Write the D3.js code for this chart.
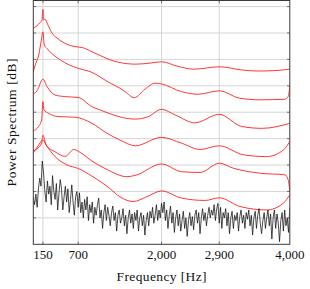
<!DOCTYPE html>
<html>
<head>
<meta charset="utf-8">
<script src="https://cdn.jsdelivr.net/npm/d3@7"></script>
<style>
  html, body { margin: 0; padding: 0; background: #fff; }
  svg { display: block; }
  text { font-family: "Liberation Serif", "Times New Roman", serif; fill: #111; }
  .grid line { stroke: #d6d6d6; stroke-width: 1; }
  .tick-mark { stroke: #555; stroke-width: 0.8; }
  .frame { fill: none; stroke: #3a3a3a; stroke-width: 1; }
  .envelope { fill: none; stroke: #ff2020; stroke-width: 0.9; }
  .spectrum { fill: none; stroke: #111; stroke-width: 0.75; }
</style>
</head>
<body>
<svg id="chart" width="310" height="289"></svg>
<script>
// LPC envelopes (red, offset) over a measured power spectrum (black)

const freqTicks = [150, 700, 2000, 2900, 4000];
const levelTicks = [0, 10, 20, 30, 40, 50, 60, 70, 80, 90];

// [frequency Hz, level dB], top to bottom
const envelope1 = [[0,81.8],[100,83.8],[135,84.9],[150,88.9],[160,85],[180,85.2],[230,83],[290,80],[370,78.1],[450,76.7],[600,75.1],[700,74.7],[760,74.5],[915,72.9],[1040,71.5],[1200,69.8],[1350,68.8],[1600,68.2],[1820,68.6],[2000,69.1],[2250,67.4],[2500,66.3],[2900,67.2],[3250,66.0],[3500,65.6],[3800,65.8],[4000,66.3]];
const envelope2 = [[0,65.2],[30,67.9],[85,71.7],[125,77.3],[150,80.4],[170,75.5],[210,74.2],[290,72.2],[420,69.8],[700,66.6],[885,65.4],[1200,61.0],[1350,59.1],[1430,57.8],[1575,55.5],[1740,58.7],[1900,61.0],[2000,60.7],[2310,57.8],[2570,56.8],[2900,58.1],[3220,55.3],[3540,54.7],[3920,54.9],[3975,55.9],[4000,59.9]];
const envelope3 = [[0,56.8],[60,58.2],[150,62.5],[215,59.7],[340,56.5],[500,55.9],[700,55.6],[915,52.1],[1040,50.9],[1200,49.4],[1450,47.7],[1590,47.4],[1790,48.3],[2000,51.1],[2210,49.0],[2520,46.0],[2900,49.2],[3250,44.6],[3570,43.9],[4000,45.8]];
const envelope4 = [[0,42.9],[75,44.4],[130,47.1],[150,54.0],[167,50.9],[240,49.6],[365,48.4],[450,48.3],[655,48.1],[915,45.8],[1145,42.1],[1350,39.5],[1590,37.3],[2000,40.5],[2310,38.3],[2600,35.9],[2900,37.3],[3275,33.9],[3640,33.2],[3900,35.7],[4000,38.9]];
const envelope5 = [[0,35.4],[75,36.5],[130,38.4],[150,41.3],[200,37.6],[340,35.0],[500,33.3],[630,35.9],[730,34.8],[915,31.5],[1135,28.5],[1460,25.6],[1590,26.1],[2000,30.4],[2310,27.5],[2600,27.2],[2900,30.7],[3120,28.8],[3540,26.9],[3925,26.3],[3975,24.4],[4000,20.0]];
const envelope6 = [[0,34.6],[75,37.3],[150,39.5],[200,37.6],[340,33.2],[520,30.1],[700,28.7],[915,25.8],[1200,21.0],[1350,18.0],[1560,16.2],[1770,18.0],[2000,20.2],[2310,17.5],[2680,16.6],[2900,17.6],[3225,14.3],[3640,13.0],[3900,15.6],[4000,18.7]];

// measured spectrum, one value every 20 Hz from 0 to 4000
const spectrumStep = 20;
const spectrum = [
  18,15,19,14,21,25,22,31.5,27,20,
  16,24,19,22,15,26,20,17,23,13,
  19,24.5,21,13,18,22,16,21,12,17,
  22.5,16,11,18,20,14,19.5,12,16,10,
  17,13,18,9,15,12,16,8,14,11,
  15,17.5,10,13,6,12,15,9,14,11,
  7,12,14.5,9,12,5,11,13,8,10,
  13.5,7,11,4,10,13,8,11.5,6,12,
  9,13,5,10,12,7,11,3.5,9,12,
  7,12.5,10,14,8,11,15,9,13,10,
  15.5,12,16,9,13,6,11,14.5,8,12,
  4.5,10,13,7,11.5,5,9,12.5,6,10,
  3,9,12,7,10.5,5.5,11,13,8,12,
  4,10,13.5,9,12,7,11,14,10,13,
  11,15,9,13.5,15.5,8,14,6,12,10,
  13.5,7,12,4,10,12.5,6,11,9,12,
  5,10.5,13,8,11,6,12,9.5,13,7,
  11,3.5,10,12.5,6,11,13.5,8,4,9,
  12,6,10,13,7,11.5,2,10,13,6,
  11.5,8,1,9,12,5,13,7,10,4.5,
  14
];

const envelopes = [envelope1, envelope2, envelope3, envelope4, envelope5, envelope6];

const plot = { left: 33.3, right: 289.8, top: 0.5, bottom: 244.3 };

const x = d3.scaleLinear().domain([0, 4000]).range([plot.left, plot.right]);
const y = d3.scaleLinear().domain([0, 92.3]).range([plot.bottom, plot.top]);

const svg = d3.select('#chart');

svg.append('defs').append('clipPath')
    .attr('id', 'plot-clip')
    .append('rect')
    .attr('x', plot.left)
    .attr('y', plot.top)
    .attr('width', plot.right - plot.left)
    .attr('height', plot.bottom - plot.top);

// grid
const grid = svg.append('g').attr('class', 'grid');
grid.selectAll('.hgrid')
    .data(levelTicks.filter(d => d > 0))
    .join('line')
    .attr('x1', plot.left).attr('x2', plot.right)
    .attr('y1', d => y(d)).attr('y2', d => y(d));
grid.selectAll('.vgrid')
    .data(freqTicks.filter(d => d < 4000))
    .join('line')
    .attr('x1', d => x(d)).attr('x2', d => x(d))
    .attr('y1', plot.top).attr('y2', plot.bottom);

// curves
const curves = svg.append('g').attr('clip-path', 'url(#plot-clip)');

const envLine = d3.line()
    .x(d => x(d[0]))
    .y(d => y(d[1]))
    .curve(d3.curveMonotoneX);

curves.selectAll('.envelope')
    .data(envelopes)
    .join('path')
    .attr('class', 'envelope')
    .attr('d', envLine);

const specLine = d3.line()
    .x((d, i) => x(i * spectrumStep))
    .y(d => y(d));

curves.append('path')
    .datum(spectrum)
    .attr('class', 'spectrum')
    .attr('d', specLine);

// tick marks on all four sides, pointing inward
const tickLen = 2.8;
const marks = svg.append('g');
levelTicks.filter(d => d > 0).forEach(d => {
    marks.append('line').attr('class', 'tick-mark')
        .attr('x1', plot.left).attr('x2', plot.left + tickLen)
        .attr('y1', y(d)).attr('y2', y(d));
    marks.append('line').attr('class', 'tick-mark')
        .attr('x1', plot.right - tickLen).attr('x2', plot.right)
        .attr('y1', y(d)).attr('y2', y(d));
});
freqTicks.filter(d => d < 4000).forEach(d => {
    marks.append('line').attr('class', 'tick-mark')
        .attr('x1', x(d)).attr('x2', x(d))
        .attr('y1', plot.bottom - tickLen).attr('y2', plot.bottom);
    marks.append('line').attr('class', 'tick-mark')
        .attr('x1', x(d)).attr('x2', x(d))
        .attr('y1', plot.top).attr('y2', plot.top + tickLen);
});

svg.append('rect')
    .attr('class', 'frame')
    .attr('x', plot.left)
    .attr('y', plot.top)
    .attr('width', plot.right - plot.left)
    .attr('height', plot.bottom - plot.top);

// labels
const fmt = d3.format(',');
svg.append('g')
    .selectAll('text')
    .data(freqTicks)
    .join('text')
    .attr('x', d => x(d))
    .attr('y', 258.5)
    .attr('text-anchor', 'middle')
    .attr('font-size', 13)
    .text(d => fmt(d));

svg.append('text')
    .attr('x', (plot.left + plot.right) / 2)
    .attr('y', 280.5)
    .attr('text-anchor', 'middle')
    .attr('font-size', 13.5)
    .attr('textLength', 90)
    .attr('lengthAdjust', 'spacing')
    .text('Frequency [Hz]');

svg.append('text')
    .attr('transform', `translate(15.5,${(plot.top + plot.bottom) / 2}) rotate(-90)`)
    .attr('text-anchor', 'middle')
    .attr('font-size', 13.5)
    .attr('textLength', 128)
    .attr('lengthAdjust', 'spacing')
    .text('Power Spectrum [dB]');
</script>
</body>
</html>
